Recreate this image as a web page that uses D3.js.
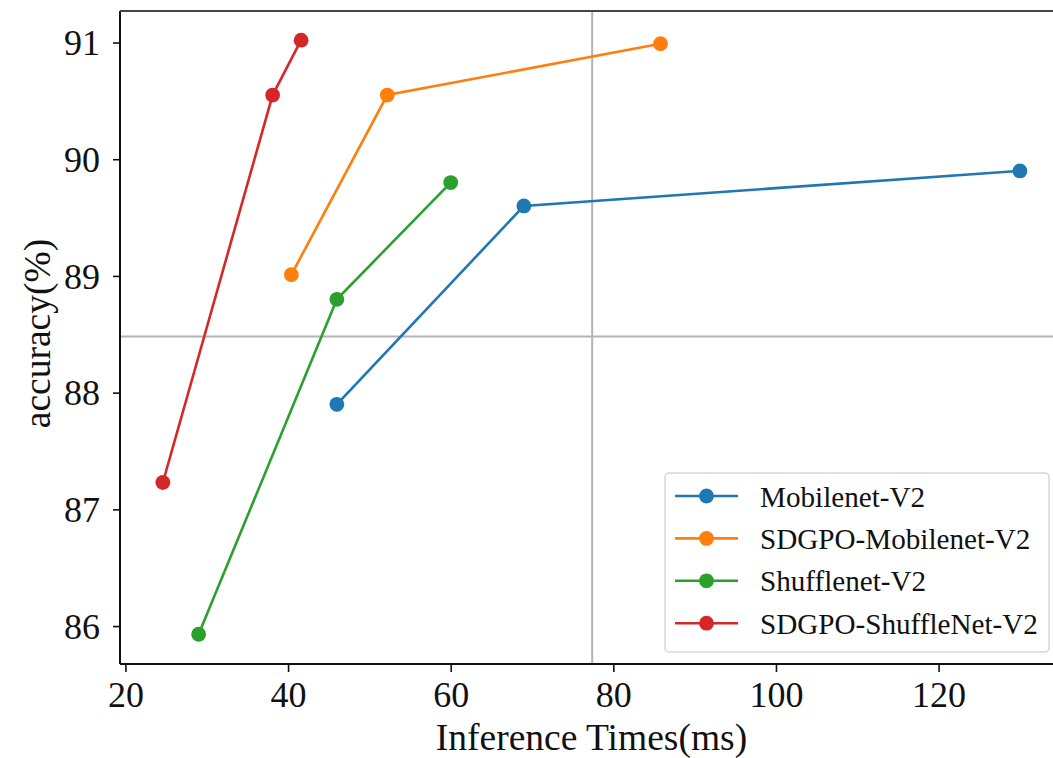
<!DOCTYPE html>
<html>
<head>
<meta charset="utf-8">
<script src="https://cdn.jsdelivr.net/npm/d3@7"></script>
<style>
  html, body { margin: 0; padding: 0; background: #fff; }
  svg { display: block; }
  text { font-family: "Liberation Serif", "DejaVu Serif", serif; fill: #111; }
</style>
</head>
<body>
<svg id="chart" width="1053" height="758"></svg>
<script>
// ---- data ----
const seriesNames = ["Mobilenet-V2", "SDGPO-Mobilenet-V2", "Shufflenet-V2", "SDGPO-ShuffleNet-V2"];
const seriesColors = ["#1f77b4", "#ff7f0e", "#2ca02c", "#d62728"];
const mobilenetX = [46, 69, 130];
const mobilenetY = [87.9, 89.6, 89.9];
const sdgpoMobilenetX = [40.4, 52.2, 85.8];
const sdgpoMobilenetY = [89.01, 90.55, 90.99];
const shufflenetX = [29, 46, 60];
const shufflenetY = [85.93, 88.8, 89.8];
const sdgpoShufflenetX = [24.6, 38.1, 41.6];
const sdgpoShufflenetY = [87.23, 90.55, 91.02];
const xTicks = [20, 40, 60, 80, 100, 120];
const yTicks = [86, 87, 88, 89, 90, 91];
const refX = 77.4;
const refY = 88.48;
const xLabel = "Inference Times(ms)";
const yLabel = "accuracy(%)";

const seriesX = [mobilenetX, sdgpoMobilenetX, shufflenetX, sdgpoShufflenetX];
const seriesY = [mobilenetY, sdgpoMobilenetY, shufflenetY, sdgpoShufflenetY];
const series = seriesNames.map((name, i) => ({
  name, color: seriesColors[i],
  points: seriesX[i].map((x, j) => ({ x, y: seriesY[i][j] }))
}));

// ---- layout ----
const svg = d3.select("#chart");
const L = 120, R = 1063, T = 11, B = 664;
const x = d3.scaleLinear().domain([19.33, 135.3]).range([L, R]);
const y = d3.scaleLinear().domain([85.675, 91.27]).range([B, T]);

// reference lines
svg.append("line").attr("x1", x(refX)).attr("x2", x(refX)).attr("y1", T).attr("y2", B)
  .attr("stroke", "#b3b3b3").attr("stroke-width", 2);
svg.append("line").attr("x1", L).attr("x2", R).attr("y1", y(refY)).attr("y2", y(refY))
  .attr("stroke", "#b3b3b3").attr("stroke-width", 2);

// axes
const xAxis = svg.append("g").attr("transform", `translate(0,${B})`)
  .call(d3.axisBottom(x).tickValues(xTicks).tickSize(8).tickSizeOuter(0).tickPadding(10).tickFormat(d3.format("d")));
xAxis.select(".domain").remove();
xAxis.selectAll(".tick line").attr("stroke", "#111").attr("stroke-width", 1.6);
xAxis.selectAll(".tick text").attr("font-size", 36).attr("font-family", "Liberation Serif").attr("fill", "#111")
  .attr("dy", null).attr("y", 43);

const yAxis = svg.append("g").attr("transform", `translate(${L},0)`)
  .call(d3.axisLeft(y).tickValues(yTicks).tickSize(7).tickSizeOuter(0).tickPadding(13).tickFormat(d3.format("d")));
yAxis.select(".domain").remove();
yAxis.selectAll(".tick line").attr("stroke", "#111").attr("stroke-width", 1.6);
yAxis.selectAll(".tick text").attr("font-size", 36).attr("font-family", "Liberation Serif").attr("fill", "#111")
  .attr("dy", "0.34em");

// frame
svg.append("line").attr("x1", L).attr("x2", L).attr("y1", T).attr("y2", B).attr("stroke", "#111").attr("stroke-width", 2);
svg.append("line").attr("x1", L).attr("x2", R).attr("y1", B).attr("y2", B).attr("stroke", "#111").attr("stroke-width", 2);
svg.append("line").attr("x1", L).attr("x2", R).attr("y1", T).attr("y2", T).attr("stroke", "#444").attr("stroke-width", 2);

// series
const line = d3.line().x(d => x(d.x)).y(d => y(d.y));
const g = svg.append("g");
series.forEach(s => {
  g.append("path").datum(s.points).attr("d", line)
    .attr("fill", "none").attr("stroke", s.color).attr("stroke-width", 2.6);
  g.selectAll(null).data(s.points).enter().append("circle")
    .attr("cx", d => x(d.x)).attr("cy", d => y(d.y)).attr("r", 7.4)
    .attr("fill", s.color);
});

// axis labels
svg.append("text").attr("x", (L + 1053) / 2 + 5).attr("y", 750)
  .attr("text-anchor", "middle").attr("font-size", 37.5).text(xLabel);
svg.append("text").attr("transform", `translate(50,${(T + B) / 2 - 4}) rotate(-90)`)
  .attr("text-anchor", "middle").attr("font-size", 37.5).text(yLabel);

// legend
const lg = svg.append("g");
lg.append("rect").attr("x", 665).attr("y", 473).attr("width", 384).attr("height", 179)
  .attr("rx", 4).attr("fill", "#fff").attr("fill-opacity", 0.85)
  .attr("stroke", "#d6d6d6").attr("stroke-width", 1.5);
const legendTexts = [];
series.forEach((s, i) => {
  const cy = 496 + i * 42.4;
  lg.append("line").attr("x1", 675).attr("x2", 738).attr("y1", cy).attr("y2", cy)
    .attr("stroke", s.color).attr("stroke-width", 2.6);
  lg.append("circle").attr("cx", 706.5).attr("cy", cy).attr("r", 7.4).attr("fill", s.color);
  legendTexts.push(lg.append("text").attr("x", 760).attr("y", cy + 10.5).attr("font-size", 31.5).text(s.name));
});
// shrink legend font so the widest entry stays inside the frame
const maxW = d3.max(legendTexts, t => t.node().getComputedTextLength());
const avail = 1038 - 760;
if (maxW > avail) {
  const fs = 31.5 * avail / maxW;
  legendTexts.forEach(t => t.attr("font-size", fs));
}
</script>
</body>
</html>
